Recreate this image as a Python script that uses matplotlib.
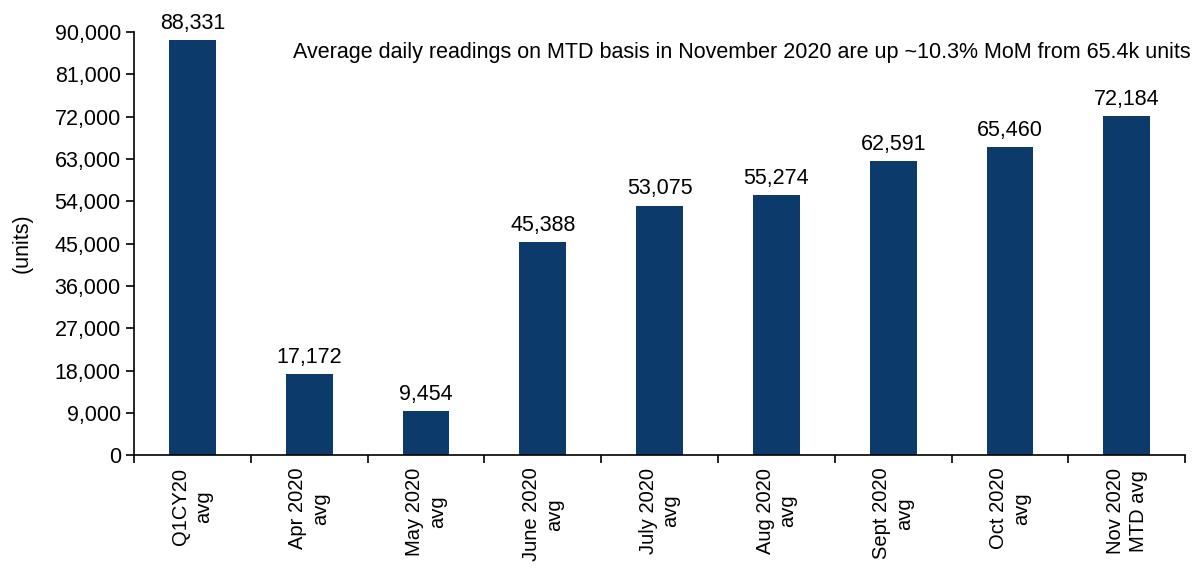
import numpy as np
import matplotlib.pyplot as plt
from matplotlib.ticker import FuncFormatter

plt.rcParams['font.family'] = ['Liberation Sans', 'DejaVu Sans']

# Data
categories = ["Q1CY20\navg", "Apr 2020\navg", "May 2020\navg", "June 2020\navg",
              "July 2020\navg", "Aug 2020\navg", "Sept 2020\navg", "Oct 2020\navg",
              "Nov 2020\nMTD avg"]
values = [88331, 17172, 9454, 45388, 53075, 55274, 62591, 65460, 72184]
y_ticks = list(range(0, 90001, 9000))
note = "Average daily readings on MTD basis in November 2020 are up ~10.3% MoM from 65.4k units"

BAR_COLOR = "#0b3a6b"
FS = 15.5

fig = plt.figure(figsize=(11.96, 5.69), dpi=100)
ax = fig.add_axes([0.112, 0.200, 0.879, 0.744])

x = np.arange(len(categories))
ax.bar(x, values, width=0.4, color=BAR_COLOR)

for xi, v in zip(x, values):
    ax.text(xi, v + 1300, f"{v:,}", ha="center", va="bottom", fontsize=FS)

ax.set_xlim(-0.5, len(categories) - 0.5)
ax.set_ylim(0, 90000)
ax.set_yticks(y_ticks)
ax.yaxis.set_major_formatter(FuncFormatter(lambda v, p: f"{int(v):,}"))
ax.tick_params(axis="y", labelsize=FS, direction="out", length=6, width=1.2)

# category boundary ticks, labels centred on bars
ax.set_xticks(np.arange(-0.5, len(categories), 1.0))
ax.set_xticklabels([])
ax.set_xticks(x, minor=True)
ax.set_xticklabels(categories, minor=True, rotation=90, fontsize=14.5,
                   ha="center", va="top", linespacing=1.25)
ax.tick_params(axis="x", which="major", direction="out", length=6, width=1.2)
ax.tick_params(axis="x", which="minor", length=0, pad=9)

for s in ["top", "right"]:
    ax.spines[s].set_visible(False)
for s in ["left", "bottom"]:
    ax.spines[s].set_linewidth(1.2)

ax.set_ylabel("(units)", fontsize=FS, labelpad=16)

ax.text(1.005, 0.975, note, transform=ax.transAxes, ha="right", va="top",
        fontsize=15.5)

fig.savefig("out.png", dpi=100)
